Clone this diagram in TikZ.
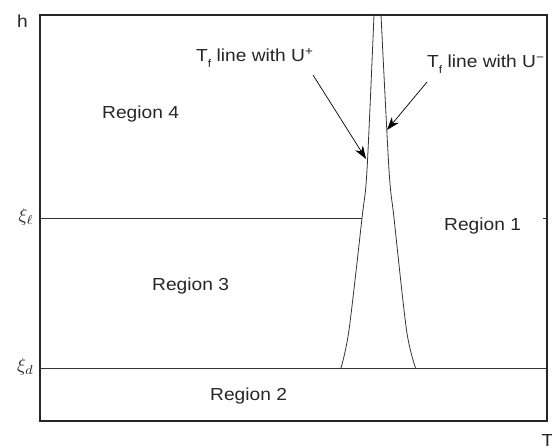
\documentclass[tikz,border=0pt]{standalone}
\usepackage{graphicx}
\usepackage{fontspec}
\setmainfont{Liberation Sans}[FakeStretch=1.1]
\usetikzlibrary{arrows.meta}
\newcommand{\bigsym}[1]{\scalebox{1.85}{$#1$}}
\begin{document}
\begin{tikzpicture}[x=1bp,y=-1bp,
  frame/.style={line width=1.3bp, draw=black!85},
  divider/.style={line width=0.8bp, draw=black!80},
  txt/.style={inner sep=0pt, font=\fontsize{17.5}{20}\selectfont, text=black!85},
  sym/.style={inner sep=0pt, text=black!85},
  ptr/.style={line width=0.7bp, draw=black, -{Stealth[length=13bp, width=9bp, inset=4bp]}}]
\useasboundingbox (0,0) rectangle (552,448);

% plot frame and inward ticks on the right edge
\draw[frame] (40,15) rectangle (547,421);
\draw[divider] (547,218) -- (543,218);
\draw[divider] (547,368) -- (543,368);

% level lines
\draw[divider] (40,368) -- (547,368);
\draw[divider] (40,218) -- (362,218);

% T_f curves
\draw[divider] plot[smooth, tension=0.5] coordinates {(374,15) (367,170) (362,218) (349,330) (341,368)};
\draw[divider] plot[smooth, tension=0.5] coordinates {(381,15) (389,170) (394,218) (406.5,330) (415.5,368)};

% axis labels
\node[txt, anchor=base west] (hlab) at (17,28) {h};
\node[txt, anchor=base west] (tlab) at (541.5,446) {T};
\node[sym, anchor=east] (xil) at (34,217) {\bigsym{\xi_\ell}};
\node[sym, anchor=east] (xid) at (34,367) {\bigsym{\xi_d}};

% region labels
\node[txt, anchor=base west] (r4) at (102,119) {Region 4};
\node[txt, anchor=base west] (r3) at (152,290) {Region 3};
\node[txt, anchor=base west] (r1) at (444,231) {Region 1};
\node[txt, anchor=base west] (r2) at (210,400) {Region 2};

% curve annotations
\node[txt, anchor=base west] (tfp) at (196,62) {T\raisebox{-0.55ex}{\fontsize{11}{12}\selectfont f} line with U\textsuperscript{+}};
\node[txt, anchor=base west] (tfm) at (427,68) {T\raisebox{-0.55ex}{\fontsize{11}{12}\selectfont f} line with U\textsuperscript{\char"2212}};

\coordinate (a1s) at (313,75);
\coordinate (a1e) at (366,159);
\coordinate (a2s) at (427,82);
\coordinate (a2e) at (387,130);
\draw[ptr] (a1s) -- (a1e);
\draw[ptr] (a2s) -- (a2e);
\end{tikzpicture}
\end{document}
